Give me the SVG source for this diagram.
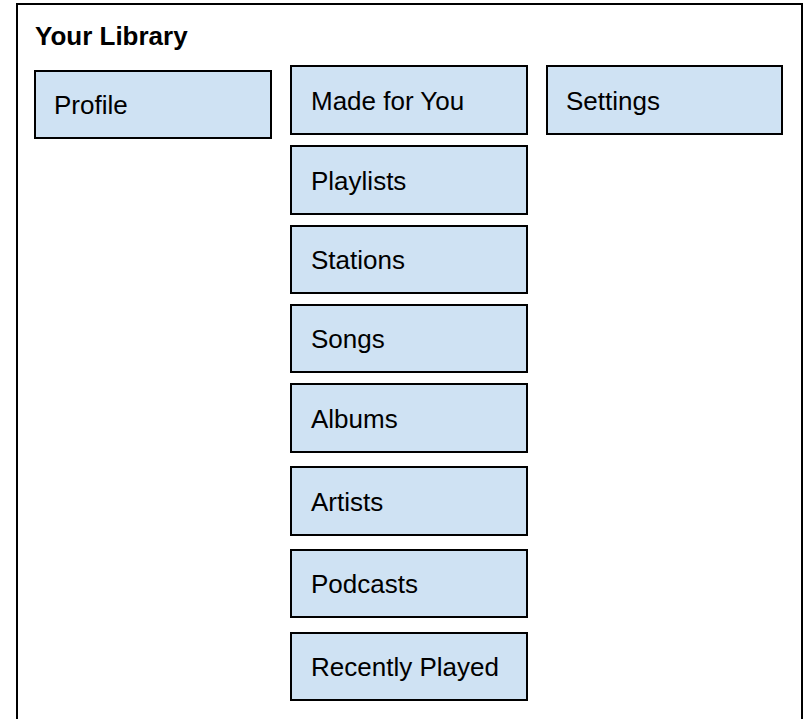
<svg xmlns="http://www.w3.org/2000/svg" width="812" height="719" viewBox="0 0 812 719">
<style>
.box{fill:#cfe2f3;stroke:#000;stroke-width:2}
.lbl{font-family:"Liberation Sans",Arial,sans-serif;font-size:26px;fill:#000}
.title{font-family:"Liberation Sans",Arial,sans-serif;font-size:26px;font-weight:bold;fill:#000}
</style>
<rect x="0" y="0" width="812" height="719" fill="#fff"/>
<g id="frame">
<rect x="17" y="4" width="785" height="740" fill="none" stroke="#000" stroke-width="2"/>
<text class="title" x="35" y="45">Your Library</text>
</g>
<g id="connectors"></g>
<g id="profile"><rect class="box" x="35" y="71" width="236" height="67"/><text class="lbl" x="54" y="114">Profile</text></g>
<g id="made-for-you"><rect class="box" x="291" y="66" width="236" height="68"/><text class="lbl" x="311" y="110">Made for You</text></g>
<g id="settings"><rect class="box" x="547" y="66" width="235" height="68"/><text class="lbl" x="566" y="110">Settings</text></g>
<g id="playlists"><rect class="box" x="291" y="146" width="236" height="68"/><text class="lbl" x="311" y="190">Playlists</text></g>
<g id="stations"><rect class="box" x="291" y="226" width="236" height="67"/><text class="lbl" x="311" y="269">Stations</text></g>
<g id="songs"><rect class="box" x="291" y="305" width="236" height="67"/><text class="lbl" x="311" y="348">Songs</text></g>
<g id="albums"><rect class="box" x="291" y="384" width="236" height="68"/><text class="lbl" x="311" y="428">Albums</text></g>
<g id="artists"><rect class="box" x="291" y="467" width="236" height="68"/><text class="lbl" x="311" y="511">Artists</text></g>
<g id="podcasts"><rect class="box" x="291" y="550" width="236" height="67"/><text class="lbl" x="311" y="593">Podcasts</text></g>
<g id="recently-played"><rect class="box" x="291" y="633" width="236" height="67"/><text class="lbl" x="311" y="676">Recently Played</text></g>
</svg>
